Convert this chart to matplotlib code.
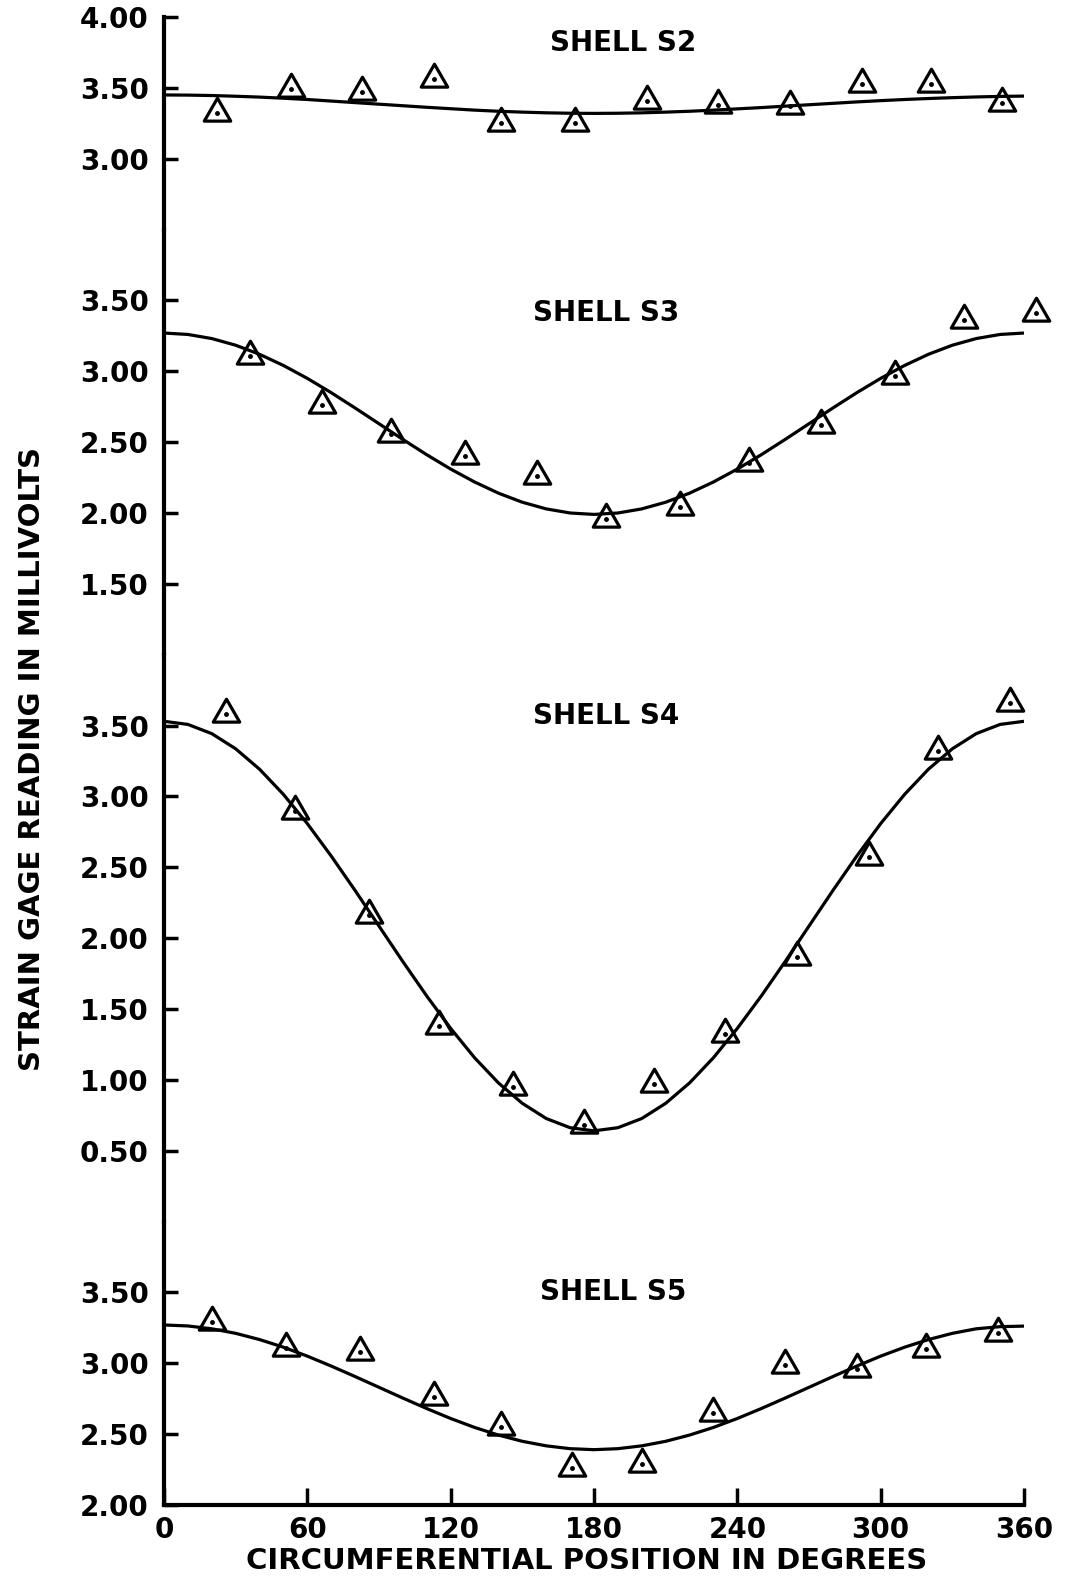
import matplotlib
matplotlib.use("Agg")
import matplotlib.pyplot as plt
from matplotlib.path import Path

# ---- data ----
shells = ["SHELL S2", "SHELL S3", "SHELL S4", "SHELL S5"]

s2_x = [22, 53, 83, 113, 141, 172, 202, 232, 262, 292, 321, 351]
s2_y = [3.32, 3.49, 3.47, 3.56, 3.25, 3.25, 3.41, 3.38, 3.37, 3.53, 3.53, 3.39]

s3_x = [36, 66, 95, 126, 156, 185, 216, 245, 275, 306, 335, 365]
s3_y = [3.11, 2.76, 2.56, 2.40, 2.26, 1.96, 2.04, 2.35, 2.62, 2.97, 3.36, 3.41]

s4_x = [26, 55, 86, 115, 146, 176, 205, 235, 265, 295, 324, 354]
s4_y = [3.58, 2.90, 2.16, 1.38, 0.95, 0.68, 0.97, 1.32, 1.87, 2.57, 3.32, 3.66]

s5_x = [20, 51, 82, 113, 141, 171, 200, 230, 260, 290, 319, 349]
s5_y = [3.29, 3.11, 3.08, 2.76, 2.55, 2.26, 2.29, 2.65, 2.99, 2.96, 3.10, 3.21]

curve_x = [0, 10, 20, 30, 40, 50, 60, 70, 80, 90, 100, 110, 120, 130, 140, 150, 160, 170, 180,
           190, 200, 210, 220, 230, 240, 250, 260, 270, 280, 290, 300, 310, 320, 330, 340, 350, 360]
s2_curve = [3.45, 3.449, 3.446, 3.441, 3.435, 3.427, 3.418, 3.407, 3.396, 3.385, 3.374, 3.363,
            3.353, 3.343, 3.335, 3.329, 3.324, 3.321, 3.32,
            3.321, 3.324, 3.329, 3.335, 3.343, 3.352, 3.361, 3.371, 3.381, 3.391, 3.401, 3.41,
            3.418, 3.425, 3.431, 3.436, 3.44, 3.442]
s3_curve = [3.27, 3.260, 3.231, 3.184, 3.120, 3.041, 2.95, 2.849, 2.741, 2.63, 2.519, 2.411,
            2.31, 2.219, 2.140, 2.076, 2.029, 2.000, 1.99,
            2.000, 2.029, 2.076, 2.140, 2.219, 2.31, 2.411, 2.519, 2.63, 2.741, 2.849, 2.95,
            3.041, 3.120, 3.184, 3.231, 3.260, 3.27]
s4_curve = [3.53, 3.508, 3.443, 3.336, 3.192, 3.014, 2.808, 2.579, 2.336, 2.085, 1.834, 1.591,
            1.363, 1.156, 0.978, 0.834, 0.727, 0.662, 0.64,
            0.662, 0.727, 0.834, 0.978, 1.156, 1.363, 1.591, 1.834, 2.085, 2.336, 2.579, 2.808,
            3.014, 3.192, 3.336, 3.443, 3.508, 3.53]
s5_curve = [3.27, 3.263, 3.243, 3.211, 3.167, 3.113, 3.05, 2.980, 2.906, 2.83, 2.754, 2.680,
            2.61, 2.547, 2.493, 2.449, 2.417, 2.397, 2.39,
            2.397, 2.417, 2.449, 2.493, 2.547, 2.61, 2.680, 2.754, 2.83, 2.906, 2.980, 3.05,
            3.113, 3.167, 3.211, 3.243, 3.258, 3.262]

y_limits = [(2.5, 4.0), (1.0, 4.0), (0.0, 4.0), (2.0, 4.0)]
y_ticks = [[3.0, 3.5, 4.0], [1.5, 2.0, 2.5, 3.0, 3.5],
           [0.5, 1.0, 1.5, 2.0, 2.5, 3.0, 3.5], [2.0, 2.5, 3.0, 3.5]]
x_ticks = [0, 60, 120, 180, 240, 300, 360]
title_pos = [(192, 3.82), (185, 3.41), (185, 3.57), (188, 3.50)]

points = [(s2_x, s2_y), (s3_x, s3_y), (s4_x, s4_y), (s5_x, s5_y)]
curves = [s2_curve, s3_curve, s4_curve, s5_curve]

# ---- figure ----
plt.rcParams['font.family'] = ['DejaVu Sans']
fig = plt.figure(figsize=(10.67, 15.77), dpi=100)
heights = [lim[1] - lim[0] for lim in y_limits]
gs = fig.add_gridspec(4, 1, height_ratios=heights, hspace=0,
                      left=0.1537, right=0.9597, top=0.9892, bottom=0.0457)

tri = Path([(-1, -0.577), (1, -0.577), (0, 1.155), (-1, -0.577)],
           [Path.MOVETO, Path.LINETO, Path.LINETO, Path.CLOSEPOLY])
axes = []
for i in range(4):
    ax = fig.add_subplot(gs[i])
    axes.append(ax)
    ax.set_xlim(0, 360)
    ax.set_ylim(*y_limits[i])
    ax.plot(curve_x, curves[i], color='black', lw=2.3, solid_capstyle='butt',
            solid_joinstyle='round')
    px, py = points[i]
    ax.plot(px, py, linestyle='none', marker=tri, markersize=22,
            mfc='none', mec='black', mew=2.3, clip_on=False)
    ax.plot(px, py, linestyle='none', marker='o', markersize=2.5,
            color='black', clip_on=False)
    ax.text(title_pos[i][0], title_pos[i][1], shells[i], ha='center', va='center',
            fontsize=20, fontweight='bold')
    for s in ['top', 'right']:
        ax.spines[s].set_visible(False)
    ax.spines['left'].set_linewidth(3)
    ax.spines['bottom'].set_linewidth(3)
    if i < 3:
        ax.spines['bottom'].set_visible(False)
        ax.tick_params(axis='x', bottom=False, labelbottom=False)
    else:
        ax.set_xticks(x_ticks)
        ax.set_xticklabels([str(v) for v in x_ticks])
        ax.tick_params(axis='x', direction='in', length=12, width=2.5, pad=8,
                       labelsize=20)
        for lab in ax.get_xticklabels():
            lab.set_fontweight('bold')
    ax.set_yticks(y_ticks[i])
    ax.set_yticklabels(["%.2f" % v for v in y_ticks[i]])
    ax.tick_params(axis='y', direction='in', length=10, width=2.5, pad=11,
                   labelsize=20)
    for lab in ax.get_yticklabels():
        lab.set_fontweight('bold')

fig.text(0.030, 0.519, "STRAIN GAGE READING IN MILLIVOLTS", rotation=90,
         ha='center', va='center', fontsize=21, fontweight='bold')
fig.text(0.550, 0.0100, "CIRCUMFERENTIAL POSITION IN DEGREES", ha='center',
         va='center', fontsize=21, fontweight='bold')

fig.savefig("out.png", dpi=100)
